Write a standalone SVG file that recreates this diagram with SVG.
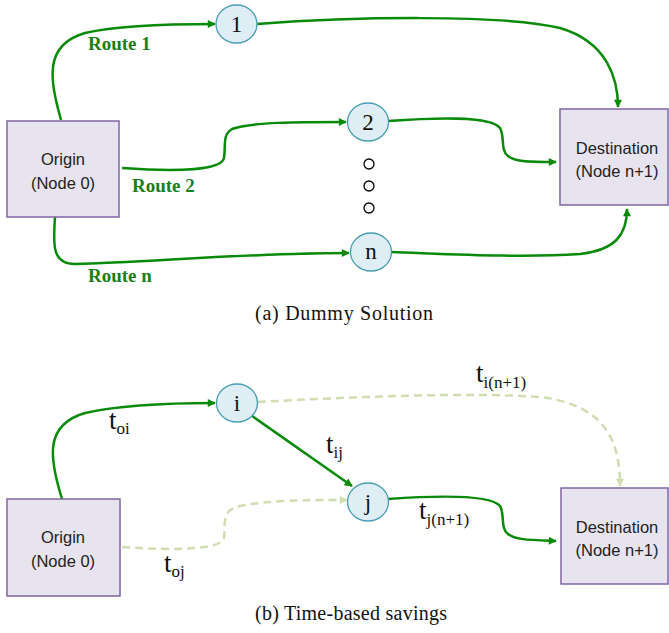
<svg xmlns="http://www.w3.org/2000/svg" width="669" height="633" viewBox="0 0 669 633">
<style>
.box{fill:#e8e4ef;stroke:#8066a3;stroke-width:1.5}
.nd{fill:#deeef4;stroke:#4a9db4;stroke-width:1.3}
.dot{fill:#fff;stroke:#000;stroke-width:1.3}
.bt{font-family:"Liberation Sans",Arial,sans-serif;font-size:16.5px;fill:#222;text-anchor:middle}
.num{font-family:"Liberation Serif","Times New Roman",serif;font-size:23px;fill:#111;text-anchor:middle}
.rt{font-family:"Liberation Serif","Times New Roman",serif;font-size:19px;font-weight:bold;fill:#1a7f1a}
.lb{font-family:"Liberation Serif","Times New Roman",serif;font-size:27px;fill:#111}
.sb{font-size:17px}
.cap{font-family:"Liberation Serif","Times New Roman",serif;font-size:20px;fill:#111}
.g{fill:none;stroke:#0a8a0a;stroke-width:2.5}
.d{fill:none;stroke:#d0ddb0;stroke-width:2.5;stroke-dasharray:8 5}
</style>
<defs>
<marker id="ag" viewBox="0 0 10 10" refX="9" refY="5" markerWidth="10" markerHeight="8" markerUnits="userSpaceOnUse" orient="auto"><path d="M0,0 L10,5 L0,10 Z" fill="#0a8a0a"/></marker>
<marker id="ad" viewBox="0 0 10 10" refX="9" refY="5" markerWidth="10" markerHeight="8" markerUnits="userSpaceOnUse" orient="auto"><path d="M0,0 L10,5 L0,10 Z" fill="#d0ddb0"/></marker>
</defs>

<g id="connectors">
<path class="g" marker-end="url(#ag)" d="M61,120 C50,80 43,45 85,33 C120,25 170,24 215,24"/>
<path class="g" marker-end="url(#ag)" d="M257,24 C350,17 500,14 560,28 C608,42 618,80 618,107"/>
<path class="g" marker-end="url(#ag)" d="M122,168 C180,172 222,170 224,158 C226,146 222,135 232,129 C250,122 300,122 346,122"/>
<path class="g" marker-end="url(#ag)" d="M388,121 C430,118 490,115 500,128 C505,136 500,150 508,156 C515,162 530,162 556,162"/>
<path class="g" marker-end="url(#ag)" d="M55,217 C53,245 52,264 75,264 C150,262 250,253 349,253"/>
<path class="g" marker-end="url(#ag)" d="M391,252 C450,254 520,258 580,254 C615,250 627,235 627,209"/>

<path class="g" marker-end="url(#ag)" d="M62,499 C50,460 43,425 85,413 C120,405 170,403 215,403"/>
<path class="g" marker-end="url(#ag)" d="M252,416 L352,486"/>
<path class="g" marker-end="url(#ag)" d="M388,499 C430,496 490,494 500,506 C505,514 500,528 508,534 C515,540 530,540 556,541"/>
<path class="d" marker-end="url(#ad)" d="M258,402 C350,397 470,392 540,397 C605,405 620,440 620,486"/>
<path class="d" marker-end="url(#ad)" d="M122,547 C180,551 222,549 224,538 C226,525 220,510 240,506 C270,500 310,500 347,500"/>
</g>

<g id="origin-a"><rect class="box" x="7" y="121" width="112" height="96"/><text class="bt" x="63" y="165">Origin</text><text class="bt" x="63" y="189">(Node 0)</text></g>
<g id="dest-a"><rect class="box" x="560" y="109" width="108" height="96"/><text class="bt" x="617" y="154">Destination</text><text class="bt" x="617" y="177">(Node n+1)</text></g>
<g id="node-1"><ellipse class="nd" cx="236.5" cy="24" rx="20.5" ry="19"/><text class="num" x="236.5" y="32">1</text></g>
<g id="node-2"><ellipse class="nd" cx="368" cy="122" rx="20.5" ry="19"/><text class="num" x="368" y="130">2</text></g>
<g id="node-n"><ellipse class="nd" cx="371" cy="252" rx="20.5" ry="19"/><text class="num" x="371" y="259">n</text></g>
<g id="dots"><circle class="dot" cx="369" cy="164" r="5"/><circle class="dot" cx="369" cy="186" r="5"/><circle class="dot" cx="369" cy="208" r="5"/></g>
<g id="route-labels">
<text class="rt" x="88" y="50">Route 1</text>
<text class="rt" x="132" y="192">Route 2</text>
<text class="rt" x="88" y="282">Route n</text>
</g>
<text class="cap" x="255" y="320" textLength="178" lengthAdjust="spacing">(a) Dummy Solution</text>

<g id="origin-b"><rect class="box" x="7" y="499" width="113" height="97"/><text class="bt" x="63" y="543">Origin</text><text class="bt" x="63" y="567">(Node 0)</text></g>
<g id="dest-b"><rect class="box" x="561" y="488" width="107" height="96"/><text class="bt" x="617" y="533">Destination</text><text class="bt" x="617" y="556">(Node n+1)</text></g>
<g id="node-i"><ellipse class="nd" cx="237" cy="403" rx="20.5" ry="19"/><text class="num" x="237" y="411">i</text></g>
<g id="node-j"><ellipse class="nd" cx="368" cy="502" rx="20.5" ry="19"/><text class="num" x="368" y="510">j</text></g>
<g id="time-labels">
<text class="lb" x="109" y="429">t<tspan class="sb" dy="5">oi</tspan></text>
<text class="lb" x="326" y="453">t<tspan class="sb" dy="5">ij</tspan></text>
<text class="lb" x="164" y="572">t<tspan class="sb" dy="5">oj</tspan></text>
<text class="lb" x="419" y="519">t<tspan class="sb" dy="6">j(n+1)</tspan></text>
<text class="lb" x="476" y="382">t<tspan class="sb" dy="6">i(n+1)</tspan></text>
</g>
<text class="cap" x="255" y="620" textLength="192" lengthAdjust="spacing">(b) Time-based savings</text>
</svg>
